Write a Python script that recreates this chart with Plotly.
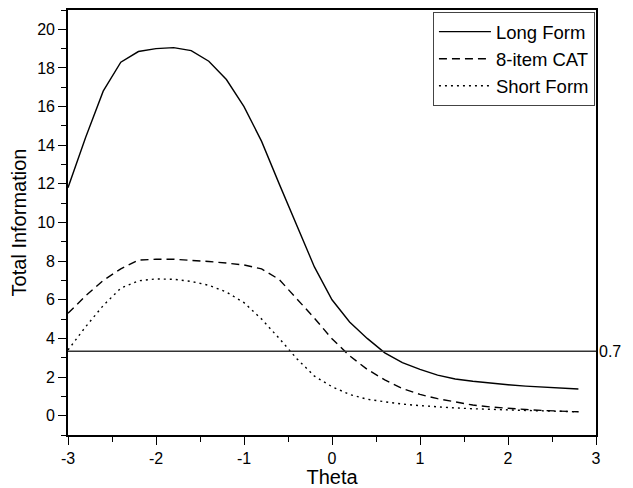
import plotly.graph_objects as go

theta = [-3.0, -2.8, -2.6, -2.4, -2.2, -2.0, -1.8, -1.6, -1.4, -1.2, -1.0, -0.8, -0.6, -0.4, -0.2,
         0.0, 0.2, 0.4, 0.6, 0.8, 1.0, 1.2, 1.4, 1.6, 1.8, 2.0, 2.2, 2.4, 2.6, 2.8]

long_form = [11.8, 14.4, 16.8, 18.3, 18.85, 19.0, 19.05, 18.9, 18.35, 17.4, 16.0, 14.2, 12.0, 9.8, 7.7,
             6.0, 4.85, 4.0, 3.25, 2.75, 2.4, 2.1, 1.9, 1.78, 1.68, 1.6, 1.53, 1.47, 1.42, 1.38]

cat8 = [5.3, 6.2, 7.0, 7.6, 8.05, 8.1, 8.1, 8.05, 7.98, 7.9, 7.8, 7.6, 7.05, 6.05, 5.05,
        3.98, 3.1, 2.4, 1.85, 1.4, 1.1, 0.88, 0.7, 0.55, 0.45, 0.37, 0.32, 0.27, 0.24, 0.2]

short_form = [3.4, 4.6, 5.7, 6.6, 6.98, 7.08, 7.06, 6.95, 6.75, 6.4, 5.85, 5.0, 4.0, 2.95, 2.05,
              1.5, 1.1, 0.85, 0.72, 0.6, 0.52, 0.45, 0.4, 0.36, 0.32, 0.29, 0.27, 0.25, 0.22, 0.2]

series_names = ["Long Form", "8-item CAT", "Short Form"]
threshold = 3.33
threshold_label = "0.7"

x_tickvals = [-3, -2, -1, 0, 1, 2, 3]
x_ticktext = ["-3", "-2", "-1", "0", "1", "2", "3"]
y_tickvals = [0, 2, 4, 6, 8, 10, 12, 14, 16, 18, 20]
y_ticktext = ["0", "2", "4", "6", "8", "10", "12", "14", "16", "18", "20"]

FONT = "Liberation Sans, Arial, sans-serif"

fig = go.Figure()
for name, vals, dash in zip(series_names, [long_form, cat8, short_form],
                            ["solid", "8px,5px", "2px,4px"]):
    fig.add_trace(go.Scatter(x=theta, y=vals, mode="lines", name=name,
                             line=dict(color="black", width=1.4, dash=dash)))

fig.add_shape(type="line", xref="paper", x0=0, x1=1, yref="y", y0=threshold, y1=threshold,
              line=dict(color="#333333", width=1.5))
fig.add_annotation(xref="paper", x=1, yref="y", y=threshold, text=threshold_label,
                   showarrow=False, xanchor="left", xshift=1,
                   font=dict(family=FONT, size=16, color="black"))

axis_common = dict(showgrid=False, zeroline=False, showline=True, linecolor="black",
                   linewidth=1.6, mirror=True, ticks="outside", tickcolor="black",
                   tickwidth=1.4, ticklen=8, automargin=False,
                   tickfont=dict(family=FONT, size=16, color="black"))

fig.update_xaxes(range=[-3, 3], tickvals=x_tickvals, ticktext=x_ticktext,
                 minor=dict(dtick=0.5, tick0=0, ticks="outside", ticklen=5, tickcolor="black", tickwidth=1.4),
                 title=dict(text="Theta", font=dict(family=FONT, size=20, color="black"), standoff=2),
                 **axis_common)
fig.update_yaxes(range=[-1, 21], tickvals=y_tickvals, ticktext=y_ticktext,
                 minor=dict(dtick=1, tick0=0, ticks="outside", ticklen=5, tickcolor="black", tickwidth=1.4),
                 title=dict(text="Total Information", font=dict(family=FONT, size=20, color="black"), standoff=6),
                 **axis_common)

# the page body adds an 8px offset, so the figure is 8px smaller with margins shifted
fig.update_layout(
    width=625, height=480,
    margin=dict(l=60, r=37, t=2, b=53),
    paper_bgcolor="white", plot_bgcolor="white",
    font=dict(family=FONT, color="black"),
    legend=dict(x=0.998, y=0.995, xanchor="right", yanchor="top",
                bordercolor="#444444", borderwidth=1, bgcolor="white",
                font=dict(family=FONT, size=18.5, color="black"),
                tracegroupgap=0, itemwidth=52),
    showlegend=True,
)

fig.write_html("out.html")
